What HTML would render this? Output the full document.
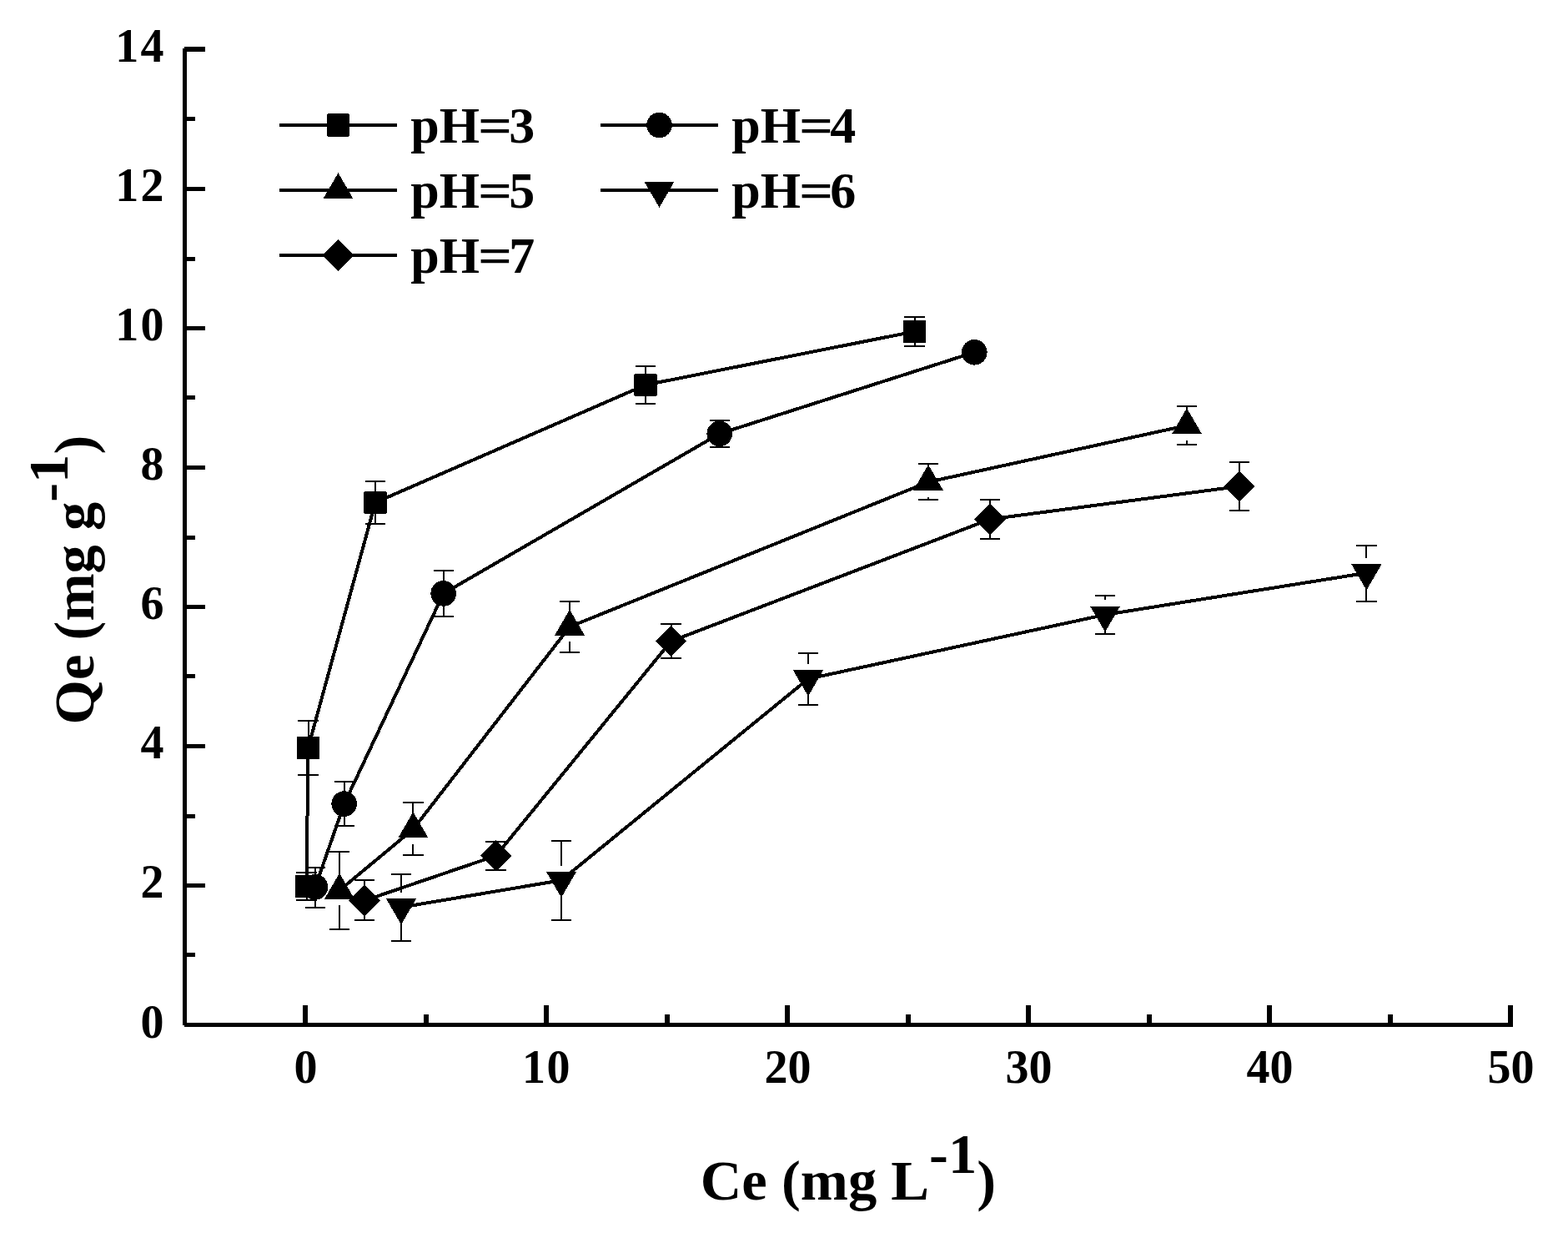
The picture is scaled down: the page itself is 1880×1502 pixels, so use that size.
<!DOCTYPE html>
<html lang="en">
<head>
<meta charset="utf-8">
<title>Qe vs Ce adsorption isotherms at pH 3-7</title>
<style>
html,body{margin:0;padding:0;background:#fff;}
body{width:1880px;height:1502px;overflow:hidden;}
svg{display:block;}
</style>
</head>
<body>
<svg width="1880" height="1502" viewBox="0 0 1880 1502">
<rect x="0" y="0" width="1880" height="1502" fill="#ffffff"/>
<g id="axes" fill="#000" shape-rendering="crispEdges">
<rect x="219" y="58" width="5" height="1171"/>
<rect x="221" y="1226" width="1593" height="5"/>
<rect x="221" y="1142" width="13" height="5"/>
<rect x="221" y="1059" width="25" height="5"/>
<rect x="221" y="976" width="13" height="5"/>
<rect x="221" y="892" width="25" height="5"/>
<rect x="221" y="808" width="13" height="5"/>
<rect x="221" y="725" width="25" height="5"/>
<rect x="221" y="642" width="13" height="5"/>
<rect x="221" y="558" width="25" height="5"/>
<rect x="221" y="474" width="13" height="5"/>
<rect x="221" y="391" width="25" height="5"/>
<rect x="221" y="308" width="13" height="5"/>
<rect x="221" y="224" width="25" height="5"/>
<rect x="221" y="140" width="13" height="5"/>
<rect x="221" y="56" width="25" height="6"/>
<rect x="363" y="1205" width="6" height="24"/>
<rect x="508" y="1216" width="6" height="13"/>
<rect x="652" y="1205" width="6" height="24"/>
<rect x="797" y="1216" width="6" height="13"/>
<rect x="941" y="1205" width="6" height="24"/>
<rect x="1086" y="1216" width="6" height="13"/>
<rect x="1230" y="1205" width="6" height="24"/>
<rect x="1375" y="1216" width="6" height="13"/>
<rect x="1519" y="1205" width="6" height="24"/>
<rect x="1664" y="1216" width="6" height="13"/>
<rect x="1808" y="1205" width="6" height="24"/>
</g>
<g id="ticklabels" font-family="'Liberation Serif','Times New Roman',Times,serif" font-weight="bold" font-size="56" fill="#000">
<text x="168.60" y="1243.50">0</text>
<text x="168.60" y="1076.43">2</text>
<text x="168.60" y="909.36">4</text>
<text x="168.60" y="742.28">6</text>
<text x="168.60" y="575.21">8</text>
<text x="138.20 168.60" y="408.14">10</text>
<text x="138.20 168.60" y="241.07">12</text>
<text x="138.20 168.60" y="74.00">14</text>
<text x="352.50" y="1298.00">0</text>
<text x="626.10 655.50" y="1298.00">10</text>
<text x="916.50 944.50" y="1298.00">20</text>
<text x="1205.50 1233.50" y="1298.00">30</text>
<text x="1494.50 1522.50" y="1298.00">40</text>
<text x="1783.50 1811.50" y="1298.00">50</text>
</g>
<g id="titles" font-family="'Liberation Serif','Times New Roman',Times,serif" font-weight="bold" font-size="68.6" fill="#000">
<text x="839.8" y="1437.7" xml:space="preserve">Ce (mg L<tspan dy="-31.5">-1</tspan><tspan dy="31.5">)</tspan></text>
<text transform="translate(112.2 868.4) rotate(-90)" x="0" y="0" xml:space="preserve">Qe (mg g<tspan dy="-31.5">-1</tspan><tspan dy="31.5">)</tspan></text>
</g>
<g id="pH3" fill="#000" stroke="none" shape-rendering="crispEdges">
<path d="M355.30 1045.50H379.70M355.30 1079.00H379.70M367.50 1045.50V1062.30M367.50 1062.30V1079.00M357.30 864.00H381.70M357.30 928.70H381.70M369.50 864.00V896.30M369.50 896.30V928.70M437.80 577.10H462.20M437.80 627.90H462.20M450.00 577.10V602.40M450.00 602.40V627.90M761.80 439.10H786.20M761.80 484.00H786.20M774.00 439.10V461.40M774.00 461.40V484.00M1084.30 379.90H1108.70M1084.30 414.90H1108.70M1096.50 379.90V397.40M1096.50 397.40V414.90" fill="none" stroke="#000" stroke-width="2.0"/>
<path d="M367.50 1062.30 L369.50 896.30 L450.00 602.40 L774.00 461.40 L1096.50 397.40" fill="none" stroke="#000" stroke-width="4.0" stroke-linejoin="round"/>
<rect x="353.90" y="1048.70" width="27.2" height="27.2" rx="1.5" ry="1.5"/>
<rect x="355.90" y="882.70" width="27.2" height="27.2" rx="1.5" ry="1.5"/>
<rect x="436.40" y="588.80" width="27.2" height="27.2" rx="1.5" ry="1.5"/>
<rect x="760.40" y="447.80" width="27.2" height="27.2" rx="1.5" ry="1.5"/>
<rect x="1082.90" y="383.80" width="27.2" height="27.2" rx="1.5" ry="1.5"/>
</g>
<g id="pH4" fill="#000" stroke="none" shape-rendering="crispEdges">
<path d="M365.80 1040.00H390.20M365.80 1087.90H390.20M378.00 1040.00V1063.40M378.00 1063.40V1087.90M400.50 937.40H424.90M400.50 989.80H424.90M412.70 937.40V963.60M412.70 963.60V989.80M519.50 683.80H543.90M519.50 738.90H543.90M531.70 683.80V711.40M531.70 711.40V738.90M850.50 504.10H874.90M850.50 535.90H874.90M862.70 504.10V519.90M862.70 519.90V535.90" fill="none" stroke="#000" stroke-width="2.0"/>
<path d="M378.00 1063.40 L412.70 963.60 L531.70 711.40 L862.70 519.90 L1168.30 422.30" fill="none" stroke="#000" stroke-width="4.0" stroke-linejoin="round"/>
<circle cx="378.00" cy="1063.40" r="15.3"/>
<circle cx="412.70" cy="963.60" r="15.3"/>
<circle cx="531.70" cy="711.40" r="15.3"/>
<circle cx="862.70" cy="519.90" r="15.3"/>
<circle cx="1168.30" cy="422.30" r="15.3"/>
</g>
<g id="pH5" fill="#000" stroke="none" shape-rendering="crispEdges">
<path d="M394.80 1020.80H419.20M394.80 1113.90H419.20M407.00 1020.80V1049.70M407.00 1085.10V1113.90M483.20 962.20H507.60M483.20 1025.00H507.60M495.40 962.20V976.30M495.40 1011.70V1025.00M670.80 721.00H695.20M670.80 781.90H695.20M683.00 721.00V733.70M683.00 769.10V781.90M1100.80 556.00H1125.20M1100.80 598.90H1125.20M1113.00 556.00V560.10M1113.00 595.50V598.90M1410.80 487.00H1435.20M1410.80 533.00H1435.20M1423.00 487.00V492.30M1423.00 527.70V533.00" fill="none" stroke="#000" stroke-width="2.0"/>
<path d="M407.00 1067.40 L495.40 994.00 L683.00 751.40 L1113.00 577.80 L1423.00 510.00" fill="none" stroke="#000" stroke-width="4.0" stroke-linejoin="round"/>
<polygon points="407.00,1046.60 425.10,1077.80 388.90,1077.80"/>
<polygon points="495.40,973.20 513.50,1004.40 477.30,1004.40"/>
<polygon points="683.00,730.60 701.10,761.80 664.90,761.80"/>
<polygon points="1113.00,557.00 1131.10,588.20 1094.90,588.20"/>
<polygon points="1423.00,489.20 1441.10,520.40 1404.90,520.40"/>
</g>
<g id="pH6" fill="#000" stroke="none" shape-rendering="crispEdges">
<path d="M468.80 1047.90H493.20M468.80 1127.80H493.20M481.00 1047.90V1069.90M481.00 1105.30V1127.80M660.80 1007.90H685.20M660.80 1102.90H685.20M673.00 1007.90V1037.50M673.00 1072.90V1102.90M956.80 783.10H981.20M956.80 844.90H981.20M969.00 783.10V796.10M969.00 831.50V844.90M1312.80 713.90H1337.20M1312.80 760.10H1337.20M1325.00 713.90V719.20M1325.00 754.60V760.10M1626.20 654.00H1650.60M1626.20 721.00H1650.60M1638.40 654.00V669.10M1638.40 704.50V721.00" fill="none" stroke="#000" stroke-width="2.0"/>
<path d="M481.00 1087.60 L673.00 1055.20 L969.00 813.80 L1325.00 736.90 L1638.40 686.80" fill="none" stroke="#000" stroke-width="4.0" stroke-linejoin="round"/>
<polygon points="481.00,1108.40 499.10,1077.20 462.90,1077.20"/>
<polygon points="673.00,1076.00 691.10,1044.80 654.90,1044.80"/>
<polygon points="969.00,834.60 987.10,803.40 950.90,803.40"/>
<polygon points="1325.00,757.70 1343.10,726.50 1306.90,726.50"/>
<polygon points="1638.40,707.60 1656.50,676.40 1620.30,676.40"/>
</g>
<g id="pH7" fill="#000" stroke="none" shape-rendering="crispEdges">
<path d="M424.80 1055.10H449.20M424.80 1103.00H449.20M437.00 1055.10V1079.60M437.00 1079.60V1103.00M582.40 1008.60H606.80M582.40 1043.00H606.80M594.60 1008.60V1025.80M594.60 1025.80V1043.00M792.30 748.00H816.70M792.30 788.90H816.70M804.50 748.00V768.70M804.50 768.70V788.90M1174.80 598.90H1199.20M1174.80 645.90H1199.20M1187.00 598.90V622.40M1187.00 622.40V645.90M1473.80 553.90H1498.20M1473.80 611.90H1498.20M1486.00 553.90V583.00M1486.00 583.00V611.90" fill="none" stroke="#000" stroke-width="2.0"/>
<path d="M437.00 1079.60 L594.60 1025.80 L804.50 768.70 L1187.00 622.40 L1486.00 583.00" fill="none" stroke="#000" stroke-width="4.0" stroke-linejoin="round"/>
<polygon points="437.00,1060.90 455.70,1079.60 437.00,1098.30 418.30,1079.60"/>
<polygon points="594.60,1007.10 613.30,1025.80 594.60,1044.50 575.90,1025.80"/>
<polygon points="804.50,750.00 823.20,768.70 804.50,787.40 785.80,768.70"/>
<polygon points="1187.00,603.70 1205.70,622.40 1187.00,641.10 1168.30,622.40"/>
<polygon points="1486.00,564.30 1504.70,583.00 1486.00,601.70 1467.30,583.00"/>
</g>
<g id="legend" shape-rendering="crispEdges" fill="#000" font-family="'Liberation Serif','Times New Roman',Times,serif" font-weight="bold" font-size="62">
<path d="M335 150H476" stroke="#000" stroke-width="4.0" fill="none"/>
<rect x="391.90" y="136.40" width="27.2" height="27.2" rx="1.5" ry="1.5"/>
<text y="171.20"><tspan x="492.30">pH</tspan><tspan x="573.01" textLength="41.17" lengthAdjust="spacingAndGlyphs">=</tspan><tspan x="610.35">3</tspan></text>
<path d="M720 150H861" stroke="#000" stroke-width="4.0" fill="none"/>
<circle cx="790.50" cy="150.00" r="15.3"/>
<text y="171.20"><tspan x="877.30">pH</tspan><tspan x="958.01" textLength="41.17" lengthAdjust="spacingAndGlyphs">=</tspan><tspan x="995.35">4</tspan></text>
<path d="M335 228H476" stroke="#000" stroke-width="4.0" fill="none"/>
<polygon points="405.50,207.20 423.60,238.40 387.40,238.40"/>
<text y="249.20"><tspan x="492.30">pH</tspan><tspan x="573.01" textLength="41.17" lengthAdjust="spacingAndGlyphs">=</tspan><tspan x="610.35">5</tspan></text>
<path d="M720 228H861" stroke="#000" stroke-width="4.0" fill="none"/>
<polygon points="790.50,248.80 808.60,217.60 772.40,217.60"/>
<text y="249.20"><tspan x="877.30">pH</tspan><tspan x="958.01" textLength="41.17" lengthAdjust="spacingAndGlyphs">=</tspan><tspan x="995.35">6</tspan></text>
<path d="M335 306H476" stroke="#000" stroke-width="4.0" fill="none"/>
<polygon points="405.50,287.30 424.20,306.00 405.50,324.70 386.80,306.00"/>
<text y="327.20"><tspan x="492.30">pH</tspan><tspan x="573.01" textLength="41.17" lengthAdjust="spacingAndGlyphs">=</tspan><tspan x="610.35">7</tspan></text>
</g>
</svg>
</body>
</html>
